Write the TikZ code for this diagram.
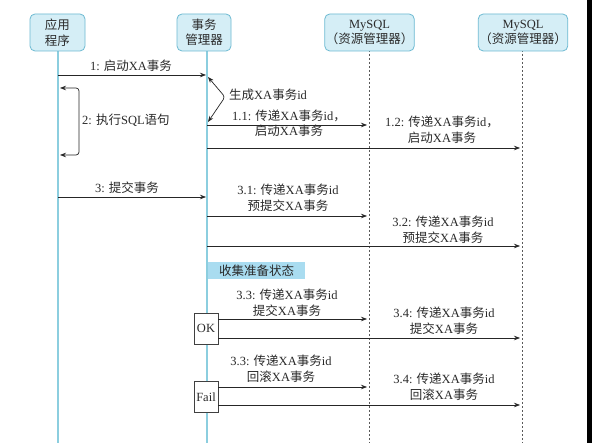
\documentclass[tikz,border=0pt]{standalone}
\usepackage{fontspec}
\setmainfont{Liberation Serif}
\newfontfamily\cjk{Noto Sans CJK SC}
\usetikzlibrary{arrows.meta}
\newcommand\zh[1]{{\cjk #1}}
\definecolor{lifeblue}{HTML}{8CCEDF}
\definecolor{hdrfill}{HTML}{D5EEF6}
\definecolor{hdrborder}{HTML}{6DBAD2}
\definecolor{collectfill}{HTML}{A9DCF0}
\definecolor{textgray}{HTML}{2A2A2A}
\tikzset{
  hdr/.style={draw=hdrborder, fill=hdrfill, rounded corners=5pt, line width=0.8pt,
    minimum height=37pt, align=center, inner sep=1pt, text=textgray},
  lifesolid/.style={draw=lifeblue, line width=1.4pt},
  lifedash/.style={draw=black!65, dash pattern=on 2pt off 2pt, line width=0.8pt},
  msg/.style={-{Stealth[length=6pt,width=4.5pt]}, line width=0.7pt, draw=black!85},
  dmsg/.style={{Stealth[length=6pt,width=4.5pt]}-{Stealth[length=6pt,width=4.5pt]}, line width=0.7pt, draw=black!85, rounded corners=3pt},
  lbl/.style={align=center, inner sep=0pt, text=textgray, font=\fontsize{12.5}{15.5}\selectfont},
  statebox/.style={draw=black!75, fill=white, line width=0.7pt, minimum width=24pt, minimum height=31pt, inner sep=0pt, text=textgray}
}
\begin{document}
\begin{tikzpicture}[x=1pt,y=-1pt, font=\fontsize{12.5}{15.5}\selectfont]
\useasboundingbox (0,0) rectangle (592,443);
\fill[white] (0,0) rectangle (592,443);
\fill[black] (587,0) rectangle (592,443);

% lifeline coordinates
\coordinate (appTop) at (58,50);  \coordinate (appBot) at (58,443);
\coordinate (tmTop) at (207,50);  \coordinate (tmBot) at (207,443);
\coordinate (my1Top) at (369,50); \coordinate (my1Bot) at (369,443);
\coordinate (my2Top) at (522,50); \coordinate (my2Bot) at (522,443);

\draw[lifesolid] (appTop) -- (appBot);
\draw[lifesolid] (tmTop) -- (tmBot);
\draw[lifedash] (my1Top) -- (my1Bot);
\draw[lifedash] (my2Top) -- (my2Bot);

% headers
\node[hdr, minimum width=55pt] (app) at (57.5,32.5) {\zh{应用}\\\zh{程序}};
\node[hdr, minimum width=54pt] (tm) at (204,32.5) {\zh{事务}\\\zh{管理器}};
\node[hdr, minimum width=85pt] (my1) at (369.5,32.5) {MySQL\\\zh{（资源管理器）}};
\node[hdr, minimum width=88pt] (my2) at (523,32.5) {MySQL\\\zh{（资源管理器）}};

% 1
\coordinate (m1s) at (58,75); \coordinate (m1e) at (206,75);
\draw[msg] (m1s) -- (m1e);
\node[lbl] (l1) at (131,66) {1: \zh{启动}XA\zh{事务}};

% self on TM
\coordinate (g1) at (208,77); \coordinate (gm) at (225,97); \coordinate (g2) at (208,122);
\draw[dmsg] (g1) -- (gm) -- (g2);
\node[lbl, anchor=west] (lg) at (229,95) {\zh{生成}XA\zh{事务}id};

% 2: self on app
\coordinate (a1) at (60,88); \coordinate (ac1) at (79,88); \coordinate (ac2) at (79,155); \coordinate (a2) at (60,155);
\draw[dmsg] (a1) -- (ac1) -- (ac2) -- (a2);
\node[lbl, anchor=west] (l2) at (82,120) {2: \zh{执行}SQL\zh{语句}};

% 1.1
\coordinate (m11s) at (207,125); \coordinate (m11e) at (367,125);
\draw[msg] (m11s) -- (m11e);
\node[lbl] (l11) at (289,123.5) {1.1: \zh{传递}XA\zh{事务}id\zh{，}\\\zh{启动}XA\zh{事务}};

% 1.2
\coordinate (m12s) at (207,148); \coordinate (m12e) at (520,148);
\draw[msg] (m12s) -- (m12e);
\node[lbl] (l12) at (442,130) {1.2: \zh{传递}XA\zh{事务}id\zh{，}\\\zh{启动}XA\zh{事务}};

% 3
\coordinate (m3s) at (58,197); \coordinate (m3e) at (206,197);
\draw[msg] (m3s) -- (m3e);
\node[lbl] (l3) at (127,188) {3: \zh{提交事务}};

% 3.1
\coordinate (m31s) at (207,216); \coordinate (m31e) at (367,216);
\draw[msg] (m31s) -- (m31e);
\node[lbl] (l31) at (288,198) {3.1: \zh{传递}XA\zh{事务}id\\\zh{预提交}XA\zh{事务}};

% 3.2
\coordinate (m32s) at (207,246); \coordinate (m32e) at (520,246);
\draw[msg] (m32s) -- (m32e);
\node[lbl] (l32) at (443,230) {3.2: \zh{传递}XA\zh{事务}id\\\zh{预提交}XA\zh{事务}};

% collect
\node[fill=collectfill, minimum width=97pt, minimum height=17pt, inner sep=0pt, anchor=west, text=textgray] (collect) at (208,270.5) {\zh{收集准备状态}};

% OK branch
\node[statebox] (ok) at (206,328.5) {OK};
\coordinate (m33e) at (367,319); \coordinate (m34e) at (520,338);
\draw[msg] (ok.east |- m33e) -- (m33e);
\draw[msg] (ok.east |- m34e) -- (m34e);
\node[lbl] (l33) at (287,303) {3.3: \zh{传递}XA\zh{事务}id\\\zh{提交}XA\zh{事务}};
\node[lbl] (l34) at (444,321) {3.4: \zh{传递}XA\zh{事务}id\\\zh{提交}XA\zh{事务}};

% Fail branch
\node[statebox] (fail) at (206,397) {Fail};
\coordinate (m33fe) at (367,387); \coordinate (m34fe) at (520,405);
\draw[msg] (fail.east |- m33fe) -- (m33fe);
\draw[msg] (fail.east |- m34fe) -- (m34fe);
\node[lbl] (l33f) at (281,369) {3.3: \zh{传递}XA\zh{事务}id\\\zh{回滚}XA\zh{事务}};
\node[lbl] (l34f) at (444,387) {3.4: \zh{传递}XA\zh{事务}id\\\zh{回滚}XA\zh{事务}};
\end{tikzpicture}
\end{document}
